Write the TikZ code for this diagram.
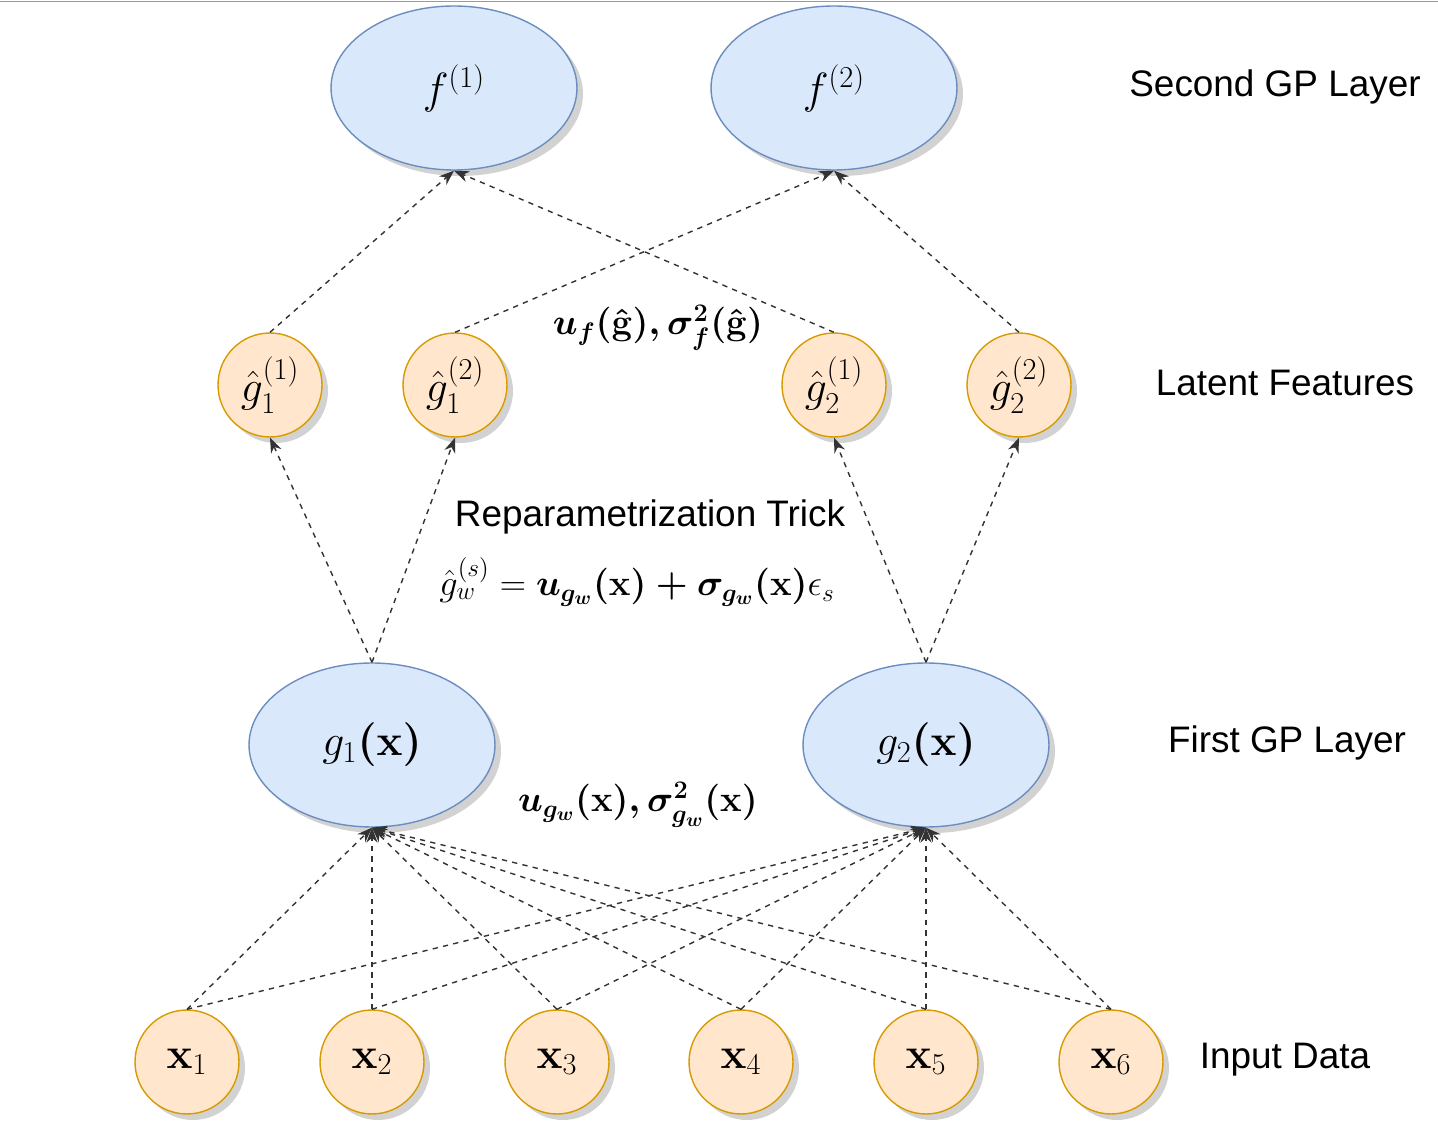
\documentclass[tikz,border=0pt]{standalone}
\usepackage{amsmath}
\usepackage[no-math]{fontspec}
\setmainfont{Liberation Sans}
\usetikzlibrary{shapes.geometric,shadows,arrows.meta}
\definecolor{gpfill}{HTML}{DAE8FC}
\definecolor{gpdraw}{HTML}{6C8EBF}
\definecolor{featfill}{HTML}{FFE6CC}
\definecolor{featdraw}{HTML}{D79B00}
\begin{document}
\begin{tikzpicture}[
  x=0.02cm, y=-0.02cm,
  gp/.style={ellipse, draw=gpdraw, fill=gpfill, thick, minimum width=4.92cm, minimum height=3.28cm,
    drop shadow={shadow xshift=1.2mm, shadow yshift=-1.2mm, fill=black!35}, font=\fontsize{27}{31}\selectfont},
  feat/.style={circle, draw=featdraw, fill=featfill, thick, minimum size=2.08cm, inner sep=0pt,
    drop shadow={shadow xshift=1.2mm, shadow yshift=-1.2mm, fill=black!35}, font=\fontsize{24}{28}\selectfont},
  layer/.style={font=\fontsize{21}{25}\selectfont},
  eq/.style={font=\fontsize{22}{26}\selectfont},
  arrow/.style={-{Stealth[length=3mm]}, dashed, thick, black!80}
]
\useasboundingbox (0,0) rectangle (1438,1121);
\draw[black!40] (0,1) -- (1438,1);

% Second GP layer
\node[gp] (f1) at (454,88) {$f^{(1)}$};
\node[gp] (f2) at (834,88) {$f^{(2)}$};

% Latent features
\node[feat] (h11) at (270,385) {$\hat{g}_1^{(1)}$};
\node[feat] (h12) at (455,385) {$\hat{g}_1^{(2)}$};
\node[feat] (h21) at (834,385) {$\hat{g}_2^{(1)}$};
\node[feat] (h22) at (1019,385) {$\hat{g}_2^{(2)}$};

% First GP layer
\node[gp] (g1) at (372,745) {$g_1\boldsymbol{(\mathbf{x})}$};
\node[gp] (g2) at (926,745) {$g_2\boldsymbol{(\mathbf{x})}$};

% Input data
\foreach \i/\px in {1/187,2/372,3/557,4/741,5/926,6/1111}{
  \node[feat] (x\i) at (\px,1062) {$\mathbf{x}_\i$};
}

% Layer labels
\node[layer] (lsecond) at (1275,87) {Second GP Layer};
\node[layer] (llatent) at (1285,383) {Latent Features};
\node[layer] (lfirst) at (1287,743) {First GP Layer};
\node[layer] (linput) at (1285,1060) {Input Data};

% Equations
\node[eq, font=\fontsize{20.5}{24}\selectfont] (ufg) at (658,328) {$\boldsymbol{u_f(\hat{\mathbf{g}}),\sigma_f^2(\hat{\mathbf{g}})}$};
\node[layer] (trick) at (650,517) {Reparametrization Trick};
\node[eq] (reparam) at (637,582) {$\hat{g}_w^{(s)}=\boldsymbol{u_{g_w}(\mathbf{x})+\sigma_{g_w}(\mathbf{x})}\epsilon_s$};
\node[eq] (ugw) at (638,805) {$\boldsymbol{u_{g_w}(\mathbf{x}),\sigma_{g_w}^2(\mathbf{x})}$};

% Arrows
\foreach \i in {1,...,6}{
  \draw[arrow] (x\i.north) -- (g1.south);
  \draw[arrow] (x\i.north) -- (g2.south);
}
\draw[arrow] (g1.north) -- (h11.south);
\draw[arrow] (g1.north) -- (h12.south);
\draw[arrow] (g2.north) -- (h21.south);
\draw[arrow] (g2.north) -- (h22.south);
\draw[arrow] (h11.north) -- (f1.south);
\draw[arrow] (h21.north) -- (f1.south);
\draw[arrow] (h12.north) -- (f2.south);
\draw[arrow] (h22.north) -- (f2.south);
\end{tikzpicture}
\end{document}
